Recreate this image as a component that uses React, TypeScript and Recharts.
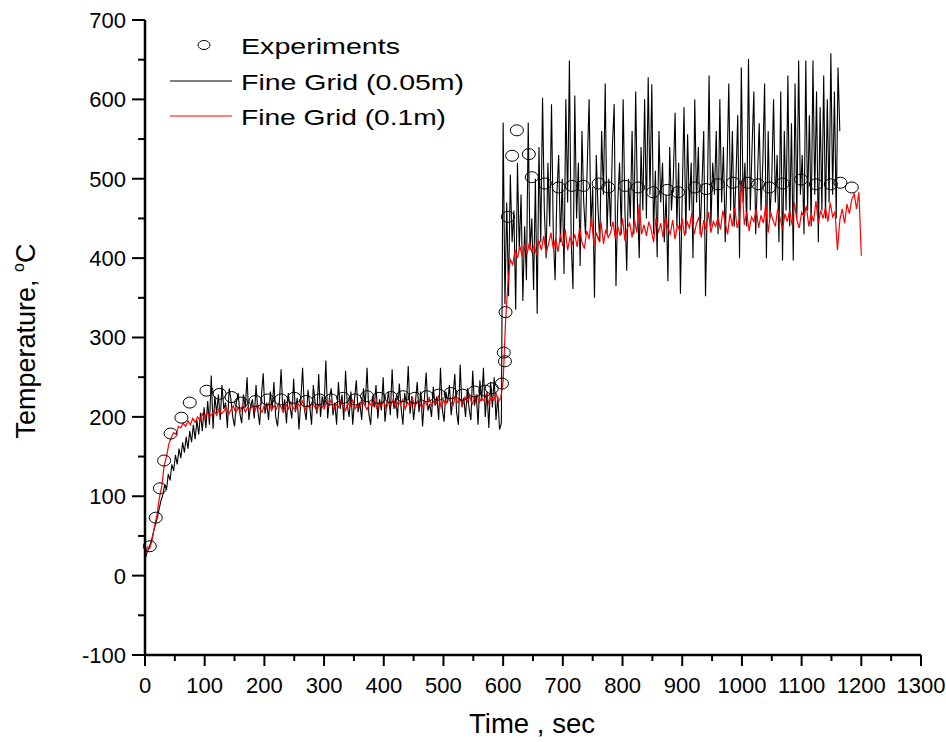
import { ComposedChart, Line, Scatter, XAxis, YAxis, Legend } from "recharts";

// sampling of the two simulated curves (seconds)
const FINE_005_STEP = 3;
const FINE_01_STEP = 4;

// Fine Grid (0.05m), every 3 s from t = 0 to 1164
const FINE_005_VALUES = [
  20, 28, 34, 40, 48, 58, 66, 74, 85, 95, 102, 115, 108, 128, 120, 140, 132, 152, 140, 160,
  148, 168, 155, 175, 160, 182, 168, 190, 172, 196, 178, 205, 182, 212, 186, 220, 190, 252, 185, 226,
  205, 228, 196, 240, 210, 218, 186, 236, 222, 200, 188, 218, 230, 204, 192, 228, 212, 250, 196, 214,
  222, 198, 240, 208, 190, 226, 255, 204, 218, 196, 232, 210, 244, 200, 188, 216, 260, 206, 222, 192,
  230, 212, 198, 248, 206, 224, 184, 220, 262, 210, 196, 234, 214, 190, 240, 218, 204, 254, 200, 226,
  212, 271, 198, 224, 236, 202, 218, 190, 244, 210, 228, 196, 258, 214, 200, 232, 190, 222, 246, 206,
  218, 196, 236, 214, 262, 204, 190, 226, 212, 240, 198, 222, 208, 250, 194, 216, 232, 202, 260, 210,
  224, 198, 242, 212, 190, 230, 216, 264, 204, 226, 196, 218, 244, 206, 232, 188, 222, 256, 208, 216,
  200, 238, 214, 226, 196, 262, 210, 194, 232, 218, 240, 202, 226, 254, 206, 190, 266, 212, 224, 200,
  236, 210, 196, 258, 214, 228, 190, 246, 220, 262, 200, 232, 186, 244, 212, 250, 196, 226, 184, 192,
  571, 342, 470, 352, 505, 420, 460, 335, 520, 410, 480, 346, 440, 372, 571, 410, 450, 360, 500, 330,
  540, 420, 602, 460, 400, 520, 440, 594, 430, 372, 480, 530, 420, 500, 380, 600, 470, 649, 420, 361,
  605, 450, 520, 390, 560, 470, 430, 520, 600, 440, 490, 350, 530, 460, 420, 560, 480, 620, 430, 500,
  440, 540, 594, 365, 470, 520, 430, 600, 460, 384, 500, 450, 560, 430, 610, 470, 400, 540, 460, 600,
  450, 628, 480, 619, 430, 510, 401, 560, 470, 520, 420, 480, 371, 540, 460, 500, 583, 440, 520, 355,
  480, 590, 430, 556, 460, 520, 400, 600, 470, 540, 430, 490, 560, 352, 470, 630, 440, 520, 480, 560,
  430, 600, 470, 540, 420, 510, 620, 460, 560, 440, 500, 580, 400, 640, 470, 520, 440, 651, 460, 540,
  610, 430, 500, 570, 460, 520, 620, 400, 560, 450, 500, 600, 470, 530, 420, 610, 397, 560, 460, 630,
  440, 570, 397, 620, 450, 649, 480, 530, 430, 649, 460, 580, 440, 649, 480, 610, 420, 590, 460, 630,
  450, 600, 470, 658, 480, 610, 450, 640, 560,
];

// Fine Grid (0.1m), every 4 s from t = 0 to 1200
const FINE_01_VALUES = [
  25, 36, 34, 45, 62, 76, 98, 112, 138, 150, 166, 174, 180, 178, 188,
  186, 192, 188, 195, 190, 198, 193, 200, 196, 204, 198, 206, 200, 203, 208,
  202, 210, 204, 207, 212, 203, 209, 214, 205, 211, 207, 215, 206, 212, 209,
  214, 207, 216, 210, 206, 215, 211, 218, 208, 214, 210, 217, 212, 206, 216,
  210, 218, 212, 208, 217, 213, 220, 209, 215, 211, 219, 213, 208, 217, 214,
  210, 219, 213, 222, 209, 216, 212, 220, 214, 208, 218, 213, 221, 210, 216,
  212, 220, 215, 209, 218, 213, 222, 211, 217, 214, 220, 210, 218, 215, 223,
  212, 219, 216, 222, 210, 218, 214, 224, 213, 220, 217, 211, 221, 215, 224,
  214, 220, 217, 226, 212, 221, 216, 224, 219, 214, 227, 218, 222, 215, 225,
  219, 226, 216, 223, 228, 218, 224, 220, 229, 217, 225, 221, 230, 219, 224,
  245, 320, 368, 398, 392, 410, 400, 415, 402, 418, 405, 420, 408, 416, 404,
  422, 410, 428, 406, 418, 432, 412, 425, 408, 430, 415, 436, 410, 426, 418,
  430, 414, 438, 420, 412, 434, 424, 452, 416, 432, 422, 445, 418, 436, 426,
  432, 446, 424, 440, 428, 450, 422, 438, 444, 426, 448, 432, 468, 430, 442,
  428, 446, 436, 420, 450, 432, 444, 426, 452, 438, 430, 448, 424, 442, 434,
  450, 428, 446, 438, 456, 430, 444, 452, 426, 448, 436, 458, 432, 446, 440,
  452, 436, 460, 444, 430, 456, 440, 464, 438, 450, 497, 442, 458, 434, 452,
  446, 462, 438, 454, 444, 468, 432, 458, 448, 440, 462, 450, 436, 456, 446,
  460, 442, 470, 448, 438, 458, 452, 466, 440, 456, 446, 472, 444, 460, 450,
  464, 446, 470, 452, 458, 410, 448, 462, 444, 468, 456, 474, 481, 462, 483,
  403,
];

// Experiments: measurement times and temperatures
const EXP_TIMES = [
  8, 18, 25, 32, 43, 61, 75, 103, 125, 145, 161, 185, 205, 228, 250, 270, 292, 312, 332, 352,
  372, 392, 412, 432, 452, 472, 492, 512, 532, 552, 570, 581, 598, 601, 603, 604, 608, 615, 623, 643,
  648, 670, 693, 715, 734, 760, 776, 804, 826, 851, 875, 893, 921, 940, 960, 985, 1010, 1027, 1046, 1068,
  1099, 1124, 1149, 1165, 1184,
];
const EXP_VALUES = [
  37, 73, 110, 145, 179, 199, 218, 233, 229, 225, 218, 220, 222, 222, 224, 220, 222, 222, 224, 222,
  226, 224, 225, 226, 224, 226, 228, 230, 228, 232, 233, 236, 242, 281, 270, 332, 452, 529, 561, 531,
  502, 494, 489, 491, 491, 494, 489, 491, 489, 483, 486, 483, 489, 487, 493, 495, 495, 493, 489, 494,
  499, 493, 493, 495, 489,
];

const X_TICKS = [0, 50, 100, 150, 200, 250, 300, 350, 400, 450, 500, 550, 600, 650, 700, 750, 800, 850, 900, 950, 1000, 1050, 1100, 1150, 1200, 1250, 1300];
const Y_TICKS = [-100, -50, 0, 50, 100, 150, 200, 250, 300, 350, 400, 450, 500, 550, 600, 650, 700];

const fine005 = FINE_005_VALUES.map((v, i) => ({ t: i * FINE_005_STEP, v }));
const fine01 = FINE_01_VALUES.map((v, i) => ({ t: i * FINE_01_STEP, v }));
const experiments = EXP_TIMES.map((t, i) => ({ t, v: EXP_VALUES[i] }));

const FONT = "'Liberation Sans', Arial, sans-serif";

const YTick = ({ x, y, payload }: any) => {
  const major = payload.value % 100 === 0;
  return (
    <g>
      <line x1={x - (major ? 13 : 7)} y1={y} x2={x} y2={y} stroke="#000" strokeWidth={2} />
      {major && (
        <text x={x - 19} y={y} dy="0.36em" textAnchor="end" fontSize={22} fontFamily={FONT} fill="#000">
          {payload.value}
        </text>
      )}
    </g>
  );
};

const XTick = ({ x, y, payload }: any) => {
  const major = payload.value % 100 === 0;
  return (
    <g>
      <line x1={x} y1={y} x2={x} y2={y + (major ? 11 : 6)} stroke="#000" strokeWidth={2} />
      {major && (
        <text x={x} y={y + 38} textAnchor="middle" fontSize={22} fontFamily={FONT} fill="#000">
          {payload.value}
        </text>
      )}
    </g>
  );
};

const ExpMarker = ({ cx, cy }: any) => (
  <ellipse cx={cx} cy={cy} rx={6.5} ry={5.5} fill="none" stroke="#000" strokeWidth={1} />
);

const LegendBox = () => (
  <svg width={480} height={140} style={{ display: "block" }}>
    <ellipse cx={204} cy={45} rx={6} ry={4.5} fill="none" stroke="#000" strokeWidth={1} />
    <text x={241} y={54} fontSize={22} fontFamily={FONT} textLength={159} lengthAdjust="spacingAndGlyphs">
      Experiments
    </text>
    <line x1={170} y1={81} x2={232} y2={81} stroke="#000" strokeWidth={1} />
    <text x={241} y={90} fontSize={22} fontFamily={FONT} textLength={223} lengthAdjust="spacingAndGlyphs">
      Fine Grid (0.05m)
    </text>
    <line x1={170} y1={116} x2={232} y2={116} stroke="#ff0000" strokeWidth={1} />
    <text x={241} y={125} fontSize={22} fontFamily={FONT} textLength={205} lengthAdjust="spacingAndGlyphs">
      Fine Grid (0.1m)
    </text>
  </svg>
);

export default function App() {
  return (
    <div style={{ position: "absolute", left: 0, top: 0, background: "#fff" }}>
      <ComposedChart width={946} height={742} margin={{ top: 20, right: 25, left: 0, bottom: 0 }}>
        <XAxis
          type="number"
          dataKey="t"
          domain={[0, 1300]}
          ticks={X_TICKS}
          interval={0}
          height={87}
          tickSize={0}
          tickMargin={0}
          tickLine={false}
          tick={<XTick />}
          axisLine={{ stroke: "#000", strokeWidth: 2.5 }}
          label={{
            content: () => (
              <text x={532} y={733} textAnchor="middle" fontSize={28} fontFamily={FONT} textLength={126} lengthAdjust="spacingAndGlyphs">
                Time , sec
              </text>
            ),
          }}
        />
        <YAxis
          type="number"
          domain={[-100, 700]}
          ticks={Y_TICKS}
          interval={0}
          width={145}
          tickSize={0}
          tickMargin={0}
          tickLine={false}
          tick={<YTick />}
          axisLine={{ stroke: "#000", strokeWidth: 2.5 }}
          label={{
            content: () => (
              <text transform="translate(35,341) rotate(-90)" textAnchor="middle" fontSize={27} fontFamily={FONT}>
                Temperature,{" "}
                <tspan fontSize={16} dy={-11}>o</tspan>
                <tspan dy={11}>C</tspan>
              </text>
            ),
          }}
        />
        <Legend
          layout="horizontal"
          verticalAlign="middle"
          align="center"
          wrapperStyle={{ left: 0, top: 0, width: 480, height: 140 }}
          content={() => <LegendBox />}
        />
        <Line data={fine005} dataKey="v" type="linear" stroke="#000" strokeWidth={1.1} dot={false} isAnimationActive={false} />
        <Line data={fine01} dataKey="v" type="linear" stroke="#ff0000" strokeWidth={1.2} dot={false} isAnimationActive={false} />
        <Scatter data={experiments} dataKey="v" shape={<ExpMarker />} isAnimationActive={false} />
      </ComposedChart>
    </div>
  );
}
